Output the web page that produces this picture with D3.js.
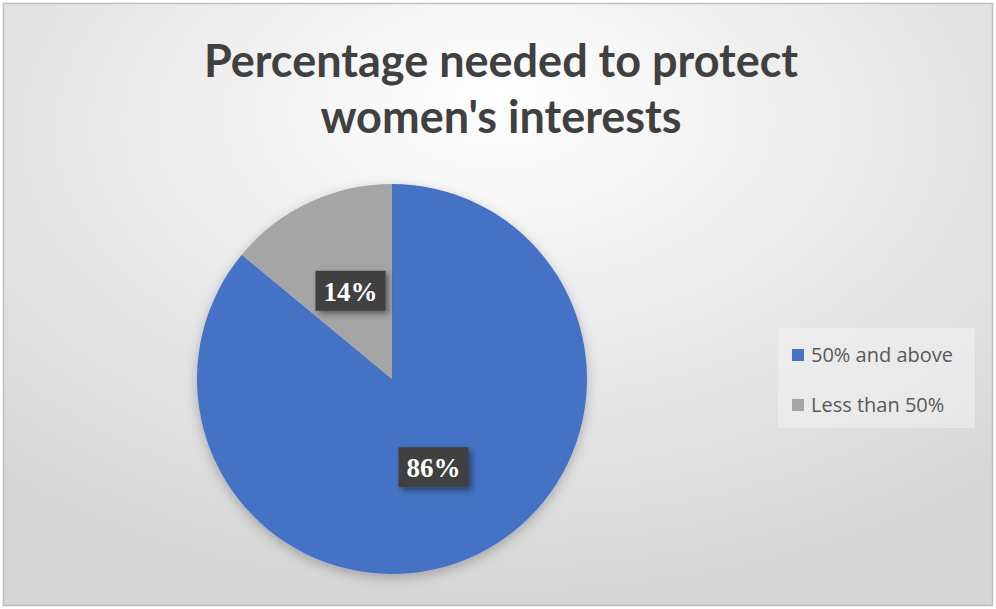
<!DOCTYPE html>
<html>
<head>
<meta charset="utf-8">
<script src="https://cdn.jsdelivr.net/npm/d3@7"></script>
<style>
  html, body { margin: 0; padding: 0; background: #fff; }
  svg { display: block; }
</style>
</head>
<body>
<svg id="chart" width="996" height="609"></svg>
<script>
// Chart data
const categories = ["50% and above", "Less than 50%"];
const values = [86, 14];
const valueLabels = ["86%", "14%"];
const colors = ["#4472C4", "#A5A5A5"];
const titleLines = ["Percentage needed to protect", "women's interests"];

const W = 996, H = 609;
const svg = d3.select("#chart");
const defs = svg.append("defs");

// Background: soft radial gradient, light in the upper middle
const bg = defs.append("radialGradient")
  .attr("id", "bgGrad")
  .attr("cx", "50%").attr("cy", "25%").attr("r", "75%")
  .attr("fx", "50%").attr("fy", "15%");
bg.append("stop").attr("offset", "0%").attr("stop-color", "#ffffff");
bg.append("stop").attr("offset", "60%").attr("stop-color", "#e6e6e6");
bg.append("stop").attr("offset", "100%").attr("stop-color", "#d6d6d6");

// Shadows
const pieShadow = defs.append("filter").attr("id", "pieShadow")
  .attr("x", "-20%").attr("y", "-20%").attr("width", "140%").attr("height", "140%");
pieShadow.append("feDropShadow").attr("dx", 0).attr("dy", 4)
  .attr("stdDeviation", 6).attr("flood-color", "#000").attr("flood-opacity", 0.25);

const boxShadow = defs.append("filter").attr("id", "boxShadow")
  .attr("x", "-30%").attr("y", "-30%").attr("width", "170%").attr("height", "180%");
boxShadow.append("feDropShadow").attr("dx", 3).attr("dy", 3)
  .attr("stdDeviation", 3).attr("flood-color", "#000").attr("flood-opacity", 0.45);

svg.append("rect")
  .attr("x", 3.5).attr("y", 3.5).attr("width", 989).attr("height", 602)
  .attr("fill", "url(#bgGrad)")
  .attr("stroke", "#bfbfbf").attr("stroke-width", 1.5);

// Title
const title = svg.append("text")
  .attr("text-anchor", "middle")
  .attr("font-family", "Lato, 'Open Sans', sans-serif")
  .attr("font-weight", 700)
  .attr("font-size", 45)
  .attr("fill", "#404040");
title.selectAll("tspan").data(titleLines).join("tspan")
  .attr("x", 501)
  .attr("y", (d, i) => 77 + i * 56)
  .text(d => d);

// Pie
const cx = 392, cy = 379, r = 195;
const pie = d3.pie().sort(null).value(d => d)(values);
const arc = d3.arc().innerRadius(0).outerRadius(r);
const labelArc = d3.arc().innerRadius(0).outerRadius(r);

const g = svg.append("g").attr("transform", `translate(${cx},${cy})`);
g.append("g").attr("filter", "url(#pieShadow)")
  .selectAll("path").data(pie).join("path")
  .attr("d", arc)
  .attr("fill", (d, i) => colors[i]);

// Data labels on dark boxes
const lbl = g.selectAll("g.lbl").data(pie).join("g")
  .attr("class", "lbl")
  .attr("transform", d => {
    const [x, y] = labelArc.centroid(d);
    return `translate(${x},${y})`;
  });
lbl.append("rect")
  .attr("x", -35).attr("y", -20).attr("width", 70).attr("height", 40)
  .attr("fill", "#404040")
  .attr("filter", "url(#boxShadow)");
lbl.append("text")
  .attr("text-anchor", "middle")
  .attr("dy", "0.36em")
  .attr("font-family", "'Liberation Serif', 'Times New Roman', serif")
  .attr("font-weight", 700)
  .attr("font-size", 27)
  .attr("fill", "#ffffff")
  .text((d, i) => valueLabels[i]);

// Legend
const legend = svg.append("g").attr("transform", "translate(778,328)");
legend.append("rect")
  .attr("width", 197).attr("height", 100)
  .attr("fill", "#f2f2f2").attr("opacity", 0.55);
const items = legend.selectAll("g.item").data(categories).join("g")
  .attr("class", "item")
  .attr("transform", (d, i) => `translate(14,${27 + i * 50})`);
items.append("rect")
  .attr("x", 0).attr("y", -6).attr("width", 12).attr("height", 12)
  .attr("fill", (d, i) => colors[i]);
items.append("text")
  .attr("x", 19).attr("dy", "0.35em")
  .attr("font-family", "'Open Sans', Lato, sans-serif")
  .attr("font-size", 20)
  .attr("fill", "#595959")
  .text(d => d);
</script>
</body>
</html>
